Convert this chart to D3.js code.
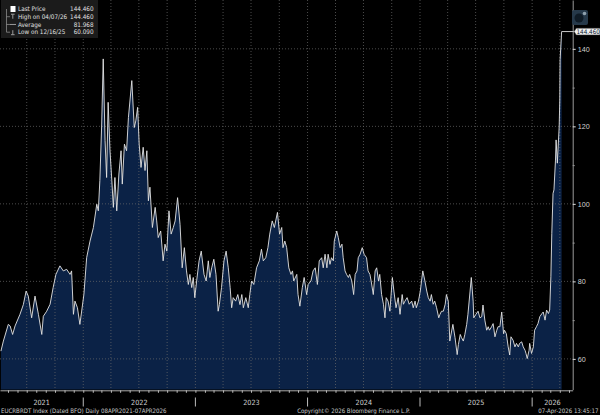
<!DOCTYPE html>
<html lang="en">
<head>
  <meta charset="UTF-8">
  <title>EUCRBRDT Index</title>
  <script src="https://d3js.org/d3.v7.min.js"></script>
  <style>
    * {
      margin: 0;
      padding: 0;
      box-sizing: border-box;
    }
    body {
      background: #000;
      width: 600px;
      height: 415px;
      overflow: hidden;
    }
    svg {
      display: block;
      font-family: "Liberation Sans Narrow", "DejaVu Sans Condensed", Arial, sans-serif;
    }
  </style>
</head>
<body>
  <div id="chart"></div>

  <script>
    const dates = [
      "2021-04-08","2021-04-16","2021-05-02","2021-05-08","2021-05-16","2021-05-24","2021-06-09","2021-06-20","2021-06-29","2021-07-06",
      "2021-07-17","2021-07-28","2021-08-08","2021-08-19","2021-08-24","2021-09-04","2021-09-15","2021-09-25","2021-10-04","2021-10-17",
      "2021-10-28","2021-11-08","2021-11-19","2021-11-24","2021-11-30","2021-12-05","2021-12-13","2021-12-21","2022-01-03","2022-01-12",
      "2022-01-23","2022-02-03","2022-02-14","2022-02-19","2022-02-24","2022-03-02","2022-03-07","2022-03-13","2022-03-18","2022-03-23",
      "2022-03-29","2022-04-04","2022-04-09","2022-04-14","2022-04-20","2022-04-27","2022-05-04","2022-05-08","2022-05-15","2022-05-22",
      "2022-05-28","2022-06-08","2022-06-16","2022-06-21","2022-06-27","2022-07-02","2022-07-08","2022-07-15","2022-07-21","2022-07-27",
      "2022-08-01","2022-08-06","2022-08-14","2022-08-23","2022-08-28","2022-09-02","2022-09-10","2022-09-18","2022-09-24","2022-09-30",
      "2022-10-07","2022-10-14","2022-10-21","2022-10-27","2022-11-04","2022-11-12","2022-11-19","2022-11-26","2022-12-03","2022-12-09",
      "2022-12-14","2022-12-20","2022-12-25","2022-12-30","2023-01-05","2023-01-13","2023-01-20","2023-01-29","2023-02-05","2023-02-12",
      "2023-02-17","2023-02-23","2023-03-02","2023-03-09","2023-03-16","2023-03-20","2023-03-27","2023-04-04","2023-04-11","2023-04-18",
      "2023-04-24","2023-04-29","2023-05-04","2023-05-12","2023-05-19","2023-05-26","2023-06-01","2023-06-06","2023-06-14","2023-06-22",
      "2023-06-27","2023-07-03","2023-07-10","2023-07-19","2023-07-28","2023-08-04","2023-08-10","2023-08-18","2023-08-25","2023-08-31",
      "2023-09-08","2023-09-15","2023-09-25","2023-10-02","2023-10-09","2023-10-13","2023-10-19","2023-10-25","2023-11-01","2023-11-08",
      "2023-11-13","2023-11-17","2023-11-27","2023-12-01","2023-12-07","2023-12-15","2023-12-21","2023-12-29","2024-01-03","2024-01-12",
      "2024-01-19","2024-01-26","2024-02-02","2024-02-08","2024-02-16","2024-02-21","2024-02-27","2024-03-04","2024-03-08","2024-03-14",
      "2024-03-19","2024-03-25","2024-03-28","2024-04-05","2024-04-10","2024-04-16","2024-04-22","2024-04-26","2024-05-02","2024-05-07",
      "2024-05-13","2024-05-17","2024-05-24","2024-05-30","2024-06-04","2024-06-10","2024-06-14","2024-06-20","2024-06-27","2024-07-03",
      "2024-07-11","2024-07-16","2024-07-22","2024-07-26","2024-08-02","2024-08-08","2024-08-13","2024-08-19","2024-08-23","2024-08-29",
      "2024-09-04","2024-09-09","2024-09-13","2024-09-19","2024-09-25","2024-10-03","2024-10-08","2024-10-15","2024-10-22","2024-10-28",
      "2024-11-04","2024-11-08","2024-11-13","2024-11-20","2024-11-27","2024-12-05","2024-12-10","2024-12-16","2024-12-20","2024-12-27",
      "2025-01-02","2025-01-10","2025-01-17","2025-01-23","2025-01-28","2025-02-03","2025-02-07","2025-02-13","2025-02-18","2025-02-24",
      "2025-03-03","2025-03-07","2025-03-12","2025-03-18","2025-03-24","2025-03-28","2025-04-03","2025-04-08","2025-04-14","2025-04-18",
      "2025-04-25","2025-05-02","2025-05-06","2025-05-12","2025-05-16","2025-05-22","2025-05-27","2025-06-02","2025-06-06","2025-06-13",
      "2025-06-17","2025-06-23","2025-06-25","2025-07-02","2025-07-09","2025-07-15","2025-07-21","2025-07-25","2025-07-31","2025-08-06",
      "2025-08-11","2025-08-15","2025-08-22","2025-08-27","2025-09-02","2025-09-08","2025-09-12","2025-09-18","2025-09-24","2025-09-30",
      "2025-10-03","2025-10-09","2025-10-15","2025-10-20","2025-10-24","2025-10-31","2025-11-06","2025-11-11","2025-11-17","2025-11-21",
      "2025-11-28","2025-12-03","2025-12-09","2025-12-12","2025-12-16","2025-12-22","2025-12-24","2025-12-30","2026-01-05","2026-01-09",
      "2026-01-15","2026-01-20","2026-01-26","2026-02-02","2026-02-06","2026-02-12","2026-02-17","2026-02-23","2026-02-27","2026-03-03",
      "2026-03-06","2026-03-10","2026-03-13","2026-03-18","2026-03-20","2026-03-24","2026-03-30","2026-04-01","2026-04-02","2026-04-07"
    ];

    const prices = [
      62.0, 64.6, 68.9, 68.5, 66.3, 68.5, 71.5, 74.0, 77.5, 76.2,
      70.6, 76.2, 71.5, 66.3, 71.0, 72.3, 74.1, 78.4, 81.8, 84.0,
      82.7, 83.1, 81.8, 82.7, 71.5, 74.9, 73.2, 68.9, 76.6, 86.1,
      90.4, 93.9, 99.9, 98.2, 106.0, 120.6, 137.4, 116.3, 106.8, 126.2,
      113.7, 106.0, 99.1, 106.8, 98.2, 107.7, 113.7, 105.1, 115.4, 113.7,
      122.3, 131.8, 119.7, 121.4, 124.9, 115.4, 109.4, 114.6, 108.6, 113.7,
      100.8, 104.3, 93.9, 99.1, 95.6, 91.3, 93.0, 85.3, 89.6, 87.8,
      98.2, 92.2, 93.9, 95.6, 101.6, 94.7, 83.5, 88.7, 82.7, 79.2,
      81.8, 78.4, 81.0, 75.8, 80.1, 85.3, 87.8, 81.8, 80.1, 85.3,
      81.0, 83.5, 85.7, 81.8, 72.3, 74.0, 78.4, 85.3, 87.8, 83.5,
      78.4, 73.2, 75.8, 74.9, 76.6, 74.0, 76.6, 73.2, 75.8, 73.2,
      76.6, 80.1, 79.2, 83.5, 85.3, 88.3, 85.3, 86.1, 88.7, 92.2,
      95.6, 93.9, 97.8, 92.2, 93.9, 88.7, 90.4, 88.7, 83.5, 81.8,
      82.7, 80.1, 81.8, 76.6, 73.6, 78.4, 81.0, 76.6, 79.2, 80.1,
      82.7, 83.5, 79.2, 85.3, 86.1, 83.5, 87.0, 83.5, 87.0, 84.4,
      86.1, 85.3, 90.4, 93.0, 91.3, 88.7, 89.6, 86.1, 82.7, 81.8,
      81.0, 81.8, 80.1, 76.6, 81.8, 82.7, 86.1, 87.0, 88.7, 87.0,
      86.1, 82.7, 81.8, 80.1, 76.6, 82.7, 83.5, 80.1, 81.8, 76.6,
      74.1, 70.6, 75.8, 74.9, 72.3, 81.0, 77.5, 73.2, 75.8, 71.5,
      76.6, 74.1, 74.9, 75.8, 74.1, 74.9, 73.2, 74.9, 73.2, 74.9,
      77.5, 82.7, 80.1, 77.5, 75.8, 74.9, 76.6, 74.1, 74.9, 73.2,
      70.6, 71.5, 72.3, 72.3, 74.1, 76.6, 74.9, 64.6, 67.2, 68.9,
      65.5, 61.1, 63.7, 66.3, 65.5, 64.6, 66.3, 68.9, 71.5, 77.5,
      81.0, 74.9, 70.6, 71.5, 72.3, 70.6, 70.9, 73.9, 70.0, 67.4,
      68.3, 67.4, 68.3, 69.1, 65.7, 67.4, 68.3, 68.3, 72.1, 66.5,
      67.4, 66.5, 63.1, 61.0, 65.7, 64.8, 63.1, 64.0, 63.1, 64.0,
      64.4, 63.1, 62.2, 61.4, 60.09, 62.2, 64.0, 61.4, 63.1, 67.4,
      68.3, 69.1, 70.9, 71.7, 72.1, 70.0, 72.6, 71.7, 72.6, 81.2,
      92.4, 102.7, 103.6, 111.3, 116.5, 110.5, 119.9, 126.8, 137.2, 144.46
    ];

    const yTicks = [60, 80, 100, 120, 140];
    const yMinorTicks = [70, 90, 110, 130, 150];
    const years = [2021, 2022, 2023, 2024, 2025, 2026];
    const legendLabels = ["Last Price", "High on 04/07/26", "Average", "Low on 12/16/25"];
    const legendValues = ["144.460", "144.460", "81.968", "60.090"];
    const lastLabel = "144.460";
    const footerLeft = "EUCRBRDT Index (Dated BFO) Daily 08APR2021-07APR2026";
    const footerMid = "Copyright\u00A9 2026 Bloomberg Finance L.P.";
    const footerRight = "07-Apr-2026 13:45:17";

    const width = 600, height = 415;
    const plot = {left: 0, right: 572.7, top: 0, bottom: 389.5};

    const parse = d3.timeParse("%Y-%m-%d");
    const data = dates.map((d, i) => ({date: parse(d), value: prices[i]}));
    if (dates.length !== prices.length) console.warn("length mismatch", dates.length, prices.length);

    const svg = d3.select("#chart")
                  .append("svg")
                  .attr("width", width)
                  .attr("height", height);

    svg.append("rect")
      .attr("width", width)
      .attr("height", height)
      .attr("fill", "#000");

    const x = d3.scaleTime()
                .domain([parse("2021-04-05"), parse("2026-05-13")])
                .range([plot.left, plot.right]);

    const y = d3.scaleLinear()
                .domain([52.1, 152.6])
                .range([plot.bottom, plot.top]);

    // area under the price
    svg.append("path")
      .datum(data)
      .attr("fill", "#0b2246")
      .attr("d", d3.area()
                   .x(d => x(d.date))
                   .y0(plot.bottom)
                   .y1(d => y(d.value)));

    // dotted grid
    svg.append("g")
      .selectAll("line")
      .data(x.ticks(d3.timeMonth.every(3)))
      .enter()
      .append("line")
      .attr("x1", d => x(d)).attr("x2", d => x(d))
      .attr("y1", plot.top).attr("y2", plot.bottom)
      .attr("stroke", "#6b6b6b")
      .attr("stroke-opacity", 0.7)
      .attr("stroke-dasharray", "1,2");

    svg.append("g")
      .selectAll("line")
      .data(yTicks)
      .enter()
      .append("line")
      .attr("x1", plot.left).attr("x2", plot.right)
      .attr("y1", d => y(d)).attr("y2", d => y(d))
      .attr("stroke", "#6b6b6b")
      .attr("stroke-opacity", 0.7)
      .attr("stroke-dasharray", "1,2");

    svg.append("path")
      .datum(data)
      .attr("fill", "none")
      .attr("stroke", "#e4e4e4")
      .attr("stroke-width", 0.9)
      .attr("stroke-linejoin", "round")
      .attr("d", d3.line()
                   .x(d => x(d.date))
                   .y(d => y(d.value)));

    // right axis
    svg.append("g")
      .attr("transform", `translate(${plot.right},0)`)
      .call(d3.axisRight(y)
              .tickValues(yTicks)
              .tickSize(3)
              .tickSizeOuter(0)
              .tickPadding(2))
      .call(g => g.select(".domain").attr("stroke", "#9a9a9a"))
      .call(g => g.selectAll(".tick line").attr("stroke", "#ddd"))
      .call(g => g.selectAll("text")
                  .attr("fill", "#d0d0d0")
                  .style("font-size", "7.2px")
                  .style("font-family", "inherit"));

    svg.append("g")
      .attr("transform", `translate(${plot.right},0)`)
      .call(d3.axisRight(y)
              .tickValues(yMinorTicks)
              .tickSize(2)
              .tickSizeOuter(0)
              .tickFormat(""))
      .call(g => g.select(".domain").remove())
      .call(g => g.selectAll(".tick line").attr("stroke", "#999"));

    // bottom axis
    svg.append("g")
      .attr("transform", `translate(0,${plot.bottom + 0.8})`)
      .call(d3.axisBottom(x)
              .ticks(d3.timeMonth.every(1))
              .tickSize(2.5)
              .tickSizeOuter(0)
              .tickFormat(""))
      .call(g => g.select(".domain").attr("stroke", "#aaa"))
      .call(g => g.selectAll(".tick line").attr("stroke", "#bbb"));

    const [d0, d1] = x.domain();
    svg.append("g")
      .selectAll("line")
      .data(years.slice(1))
      .enter()
      .append("line")
      .attr("x1", d => x(new Date(d, 0, 1))).attr("x2", d => x(new Date(d, 0, 1)))
      .attr("y1", 397.5).attr("y2", 406.5)
      .attr("stroke", "#bbb");

    svg.append("g")
      .selectAll("text")
      .data(years)
      .enter()
      .append("text")
      .attr("x", d => {
        const a = Math.max(x(new Date(d, 0, 1)), x(d0));
        const b = Math.min(x(new Date(d + 1, 0, 1)), x(d1));
        return (a + b) / 2;
      })
      .attr("y", 404.6)
      .attr("text-anchor", "middle")
      .attr("fill", "#d0d0d0")
      .style("font-size", "7.2px")
      .text(d => d);

    // footer
    const footer = svg.append("g")
      .attr("fill", "#c8c8c8")
      .style("font-size", "6.1px");

    footer.append("text")
      .attr("x", 1).attr("y", 412.6)
      .text(footerLeft);

    footer.append("text")
      .attr("x", 353.6).attr("y", 412.6)
      .attr("text-anchor", "middle")
      .text(footerMid);

    footer.append("text")
      .attr("x", 598.5).attr("y", 412.6)
      .attr("text-anchor", "end")
      .text(footerRight);

    // last price marker
    const last = data[data.length - 1];
    const ly = y(last.value);
    svg.append("line")
      .attr("x1", x(last.date)).attr("x2", plot.right + 2)
      .attr("y1", ly).attr("y2", ly)
      .attr("stroke", "#c8c8c8");

    svg.append("path")
      .attr("d", `M${plot.right + 1.5},${ly} L${plot.right + 3.5},${ly - 3.4} L600,${ly - 3.4} L600,${ly + 3.4} L${plot.right + 3.5},${ly + 3.4} Z`)
      .attr("fill", "#f0f0f0")
      .attr("stroke", "#333")
      .attr("stroke-width", 0.5);

    svg.append("text")
      .attr("x", plot.right + 3.8).attr("y", ly)
      .attr("dy", "0.35em")
      .attr("fill", "#0a1a30")
      .style("font-size", "6.3px")
      .text(lastLabel);

    // corner icon
    const icon = svg.append("g").attr("transform", "translate(572,10)");
    icon.append("rect")
      .attr("width", 16).attr("height", 15).attr("rx", 2)
      .attr("fill", "#26394a");
    icon.append("circle")
      .attr("cx", 7).attr("cy", 8).attr("r", 4.5)
      .attr("fill", "#0f1b26");
    icon.append("circle")
      .attr("cx", 12.5).attr("cy", 3.5).attr("r", 1.8)
      .attr("fill", "#8fa1ad");

    // legend
    const legend = svg.append("g");
    legend.append("rect")
      .attr("x", 1).attr("y", 0)
      .attr("width", 97).attr("height", 38)
      .attr("fill", "#1b1b1b");

    const rowY = d3.scaleLinear().domain([0, 3]).range([9, 32.2]);

    legend.selectAll(".lab")
      .data(legendLabels)
      .enter()
      .append("text")
      .attr("x", 18)
      .attr("y", (d, i) => rowY(i))
      .attr("dy", "0.35em")
      .attr("fill", "#e0e0e0")
      .style("font-size", "6.3px")
      .text(d => d);

    legend.selectAll(".val")
      .data(legendValues)
      .enter()
      .append("text")
      .attr("x", 93.5)
      .attr("y", (d, i) => rowY(i))
      .attr("dy", "0.35em")
      .attr("text-anchor", "end")
      .attr("fill", "#e0e0e0")
      .style("font-size", "6.3px")
      .text(d => d);

    const ic = "#9a9a9a";
    legend.append("line").attr("x1", 6.5).attr("x2", 6.5).attr("y1", rowY(0)).attr("y2", rowY(3)).attr("stroke", ic).attr("stroke-width", 0.7);
    [1, 2, 3].forEach(i => {
      legend.append("line").attr("x1", 6.5).attr("x2", 10).attr("y1", rowY(i)).attr("y2", rowY(i)).attr("stroke", ic).attr("stroke-width", 0.7);
    });
    legend.append("rect").attr("x", 10.5).attr("y", rowY(0) - 3).attr("width", 5).attr("height", 6).attr("fill", "#fff");
    legend.append("line").attr("x1", 12.8).attr("x2", 12.8).attr("y1", rowY(1) - 2.5).attr("y2", rowY(1) + 2).attr("stroke", ic);
    legend.append("line").attr("x1", 11).attr("x2", 14.6).attr("y1", rowY(1) - 2.5).attr("y2", rowY(1) - 2.5).attr("stroke", ic);
    legend.append("line").attr("x1", 10).attr("x2", 16).attr("y1", rowY(2)).attr("y2", rowY(2)).attr("stroke", ic);
    legend.append("line").attr("x1", 12.8).attr("x2", 12.8).attr("y1", rowY(3) - 2).attr("y2", rowY(3) + 2.5).attr("stroke", ic);
    legend.append("line").attr("x1", 11).attr("x2", 14.6).attr("y1", rowY(3) + 2.5).attr("y2", rowY(3) + 2.5).attr("stroke", ic);
  </script>
</body>
</html>
